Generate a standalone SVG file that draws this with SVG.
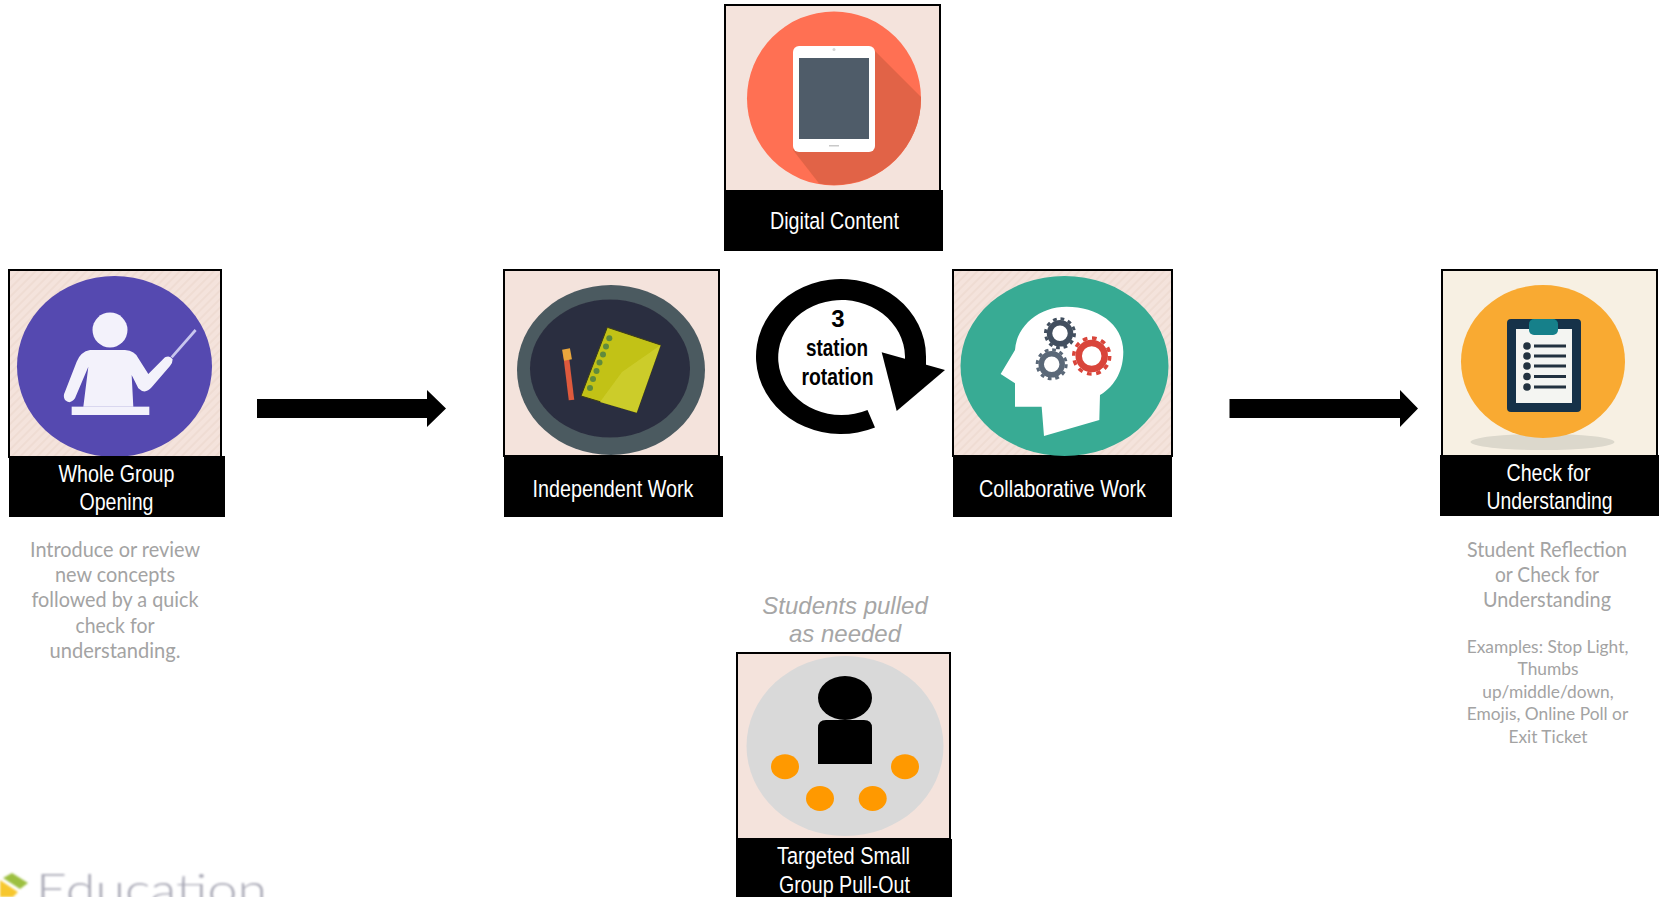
<svg xmlns="http://www.w3.org/2000/svg" width="1659" height="897" viewBox="0 0 1659 897">
<style>
.frame{fill:#f4e3dc;stroke:#000;stroke-width:2}
.bar{fill:#000}
.lab{font-family:"Liberation Sans",Arial,sans-serif;font-size:24.5px;fill:#fff;text-anchor:middle}
.rot{font-family:"Liberation Sans",Arial,sans-serif;font-size:24px;font-weight:bold;fill:#000;text-anchor:middle}
.big{font-family:Lato,"Open Sans",sans-serif;font-size:21px;fill:#a3a3a3;text-anchor:middle}
.small{font-family:Lato,"Open Sans",sans-serif;font-size:17.33px;fill:#a3a3a3;text-anchor:middle}
.ital{font-family:"Liberation Sans",Arial,sans-serif;font-size:24px;font-style:italic;fill:#a6a6a6;text-anchor:middle}
.soft{filter:url(#blur)}
</style>
<defs>
<filter id="blur" x="-5%" y="-5%" width="110%" height="110%"><feGaussianBlur stdDeviation="0.7"/></filter>
<filter id="blur2" x="-5%" y="-20%" width="110%" height="140%"><feGaussianBlur stdDeviation="1.1"/></filter>
<pattern id="stripes" width="6" height="6" patternUnits="userSpaceOnUse" patternTransform="rotate(-45)">
<rect width="6" height="6" fill="#f4e3dc"/><rect width="6" height="2" fill="#efdcd3"/>
</pattern>
<clipPath id="dc"><ellipse cx="834" cy="98.5" rx="87" ry="86.5"/></clipPath>
</defs>
<rect width="1659" height="897" fill="#fff"/>

<g id="node-whole-group">
<rect x="9" y="270" width="212" height="187" fill="url(#stripes)" stroke="#000" stroke-width="2"/>
<g class="soft">
<ellipse cx="114.5" cy="366.5" rx="97.5" ry="90.5" fill="#5548b0"/>
<circle cx="110" cy="330" r="17.5" fill="#f3f2fb"/>
<g transform="translate(50,300) scale(.3333)" fill="#f3f2fb">
<path d="M120 150H225Q255 152 265 175L295 222L345 172Q360 165 368 178Q368 190 360 198L305 262Q285 285 265 265L245 225L250 320H100L115 200L75 295Q60 315 45 300Q38 288 45 275L80 185Q92 155 120 150Z"/>
<rect x="65" y="320" width="233" height="25"/>
<path d="M365 172L437 90" stroke="#c8c6ee" stroke-width="8" fill="none"/>
</g>
</g>
<rect class="bar" x="9" y="456" width="216" height="61"/>
<text class="lab" x="116.5" y="481.5" textLength="116" lengthAdjust="spacingAndGlyphs">Whole Group</text>
<text class="lab" x="116.5" y="510" textLength="74" lengthAdjust="spacingAndGlyphs">Opening</text>
<text class="big" x="115" y="556.5" textLength="170" lengthAdjust="spacingAndGlyphs">Introduce or review</text>
<text class="big" x="115" y="582" textLength="120" lengthAdjust="spacingAndGlyphs">new concepts</text>
<text class="big" x="115" y="607" textLength="167" lengthAdjust="spacingAndGlyphs">followed by a quick</text>
<text class="big" x="115" y="632.5" textLength="79" lengthAdjust="spacingAndGlyphs">check for</text>
<text class="big" x="115" y="658" textLength="131" lengthAdjust="spacingAndGlyphs">understanding.</text>
</g>

<g id="node-independent">
<rect class="frame" x="504" y="270" width="215" height="186"/>
<g class="soft">
<ellipse cx="611" cy="370" rx="94" ry="85" fill="#4c5a60"/>
<ellipse cx="610" cy="368.5" rx="80" ry="69" fill="#2c2f40"/>
<polygon points="607.3,327.3 660.7,345 636.7,412.7 581,396" fill="#c2c215" stroke="#3a3a18" stroke-width="1"/>
<polygon points="660.7,345 636.7,412.7 600,402 622,372" fill="#cccc2c"/>
<g fill="#5f8a3c">
<circle cx="609.3" cy="338.3" r="3"/><circle cx="606" cy="346.5" r="3"/><circle cx="603" cy="354.5" r="3"/><circle cx="599.5" cy="362.5" r="3"/><circle cx="596.5" cy="371" r="3"/><circle cx="593" cy="379" r="3"/><circle cx="590" cy="388" r="3"/>
</g>
<path d="M566 355L571.5 400" stroke="#df5a3c" stroke-width="5.5" fill="none"/>
<path d="M566 349L568 360" stroke="#e9a63c" stroke-width="8" fill="none"/>
</g>
<rect class="bar" x="504" y="456" width="219" height="61"/>
<text class="lab" x="613" y="496.5" textLength="161" lengthAdjust="spacingAndGlyphs">Independent Work</text>
</g>

<g id="node-digital">
<rect class="frame" x="725" y="5" width="215" height="186"/>
<g class="soft">
<circle cx="834" cy="98.5" r="87" fill="#ff6f52"/>
<path d="M872 48L935 111V200H832L793 150Z" fill="#e16446" clip-path="url(#dc)"/>
<rect x="793" y="46" width="82" height="106" rx="6" fill="#fff"/>
<rect x="799" y="58" width="70" height="81" fill="#505c69"/>
<rect x="829" y="145" width="10" height="1.5" fill="#c9c9c9"/>
<circle cx="834" cy="49.5" r="1.5" fill="#d5d5d5"/>
</g>
<rect class="bar" x="724" y="190" width="219" height="61"/>
<text class="lab" x="834.5" y="229" textLength="129" lengthAdjust="spacingAndGlyphs">Digital Content</text>
</g>

<g id="node-rotation">
<g class="soft" fill="#000">
<path d="M875 427.5A85 77.5 0 1 1 926 356.5V366H905V356.5A63.4 57.5 0 1 0 867.5 410Z"/>
<path d="M881.7 352.3L945 370L896.7 411Z"/>
</g>
<text class="rot" x="838" y="327">3</text>
<text class="rot" x="837" y="355.5" textLength="62" lengthAdjust="spacingAndGlyphs">station</text>
<text class="rot" x="837.5" y="385" textLength="72" lengthAdjust="spacingAndGlyphs">rotation</text>
</g>

<g id="node-collaborative">
<rect x="953" y="270" width="219" height="186" fill="url(#stripes)" stroke="#000" stroke-width="2"/>
<g class="soft">
<ellipse cx="1064.5" cy="366" rx="104" ry="90" fill="#38ab94"/>
<path transform="translate(960,280) scale(.3333)" d="M320 80C410 80 490 130 490 215C490 265 470 315 420 345L418 420L252 468L245 380H165V310L122 282L165 210C170 135 240 80 320 80Z" fill="#fff"/>
<g fill="none" stroke="#43505f">
<circle cx="1060" cy="333.3" r="10.5" stroke-width="5.5"/>
<circle cx="1060" cy="333.3" r="14.5" stroke-width="3" stroke-dasharray="3.8 3.8"/>
</g>
<g fill="none" stroke="#5a6878">
<circle cx="1051.7" cy="364.3" r="10.5" stroke-width="5.5"/>
<circle cx="1051.7" cy="364.3" r="14.5" stroke-width="3" stroke-dasharray="3.8 3.8"/>
</g>
<g fill="none" stroke="#d9453a">
<circle cx="1091.7" cy="356" r="13" stroke-width="6.5"/>
<circle cx="1091.7" cy="356" r="18" stroke-width="3.5" stroke-dasharray="4.7 4.7"/>
</g>
</g>
<rect class="bar" x="953" y="456" width="219" height="61"/>
<text class="lab" x="1062.5" y="496.5" textLength="167" lengthAdjust="spacingAndGlyphs">Collaborative Work</text>
</g>

<g id="node-check">
<rect x="1442" y="270" width="215" height="186" fill="#f7f0e3" stroke="#000" stroke-width="2"/>
<g class="soft">
<ellipse cx="1542.5" cy="442" rx="72" ry="8" fill="#dcd8cc"/>
<ellipse cx="1543" cy="361.5" rx="82" ry="76.5" fill="#f9aa33"/>
<rect x="1507" y="319" width="74" height="93" rx="4" fill="#12334a"/>
<rect x="1516" y="329" width="56" height="74" fill="#f4f5f2"/>
<rect x="1529" y="319" width="29" height="16" rx="5" fill="#12808a"/>
<g fill="#22333f">
<circle cx="1527" cy="346" r="3.8"/><rect x="1534" y="344.5" width="32" height="3"/>
<circle cx="1527" cy="356" r="3.8"/><rect x="1534" y="354.5" width="32" height="3"/>
<circle cx="1527" cy="366" r="3.8"/><rect x="1534" y="364.5" width="32" height="3"/>
<circle cx="1527" cy="376.5" r="3.8"/><rect x="1534" y="375" width="32" height="3"/>
<circle cx="1527" cy="387" r="3.8"/><rect x="1534" y="385.5" width="32" height="3"/>
</g>
</g>
<rect class="bar" x="1440" y="455" width="219" height="61"/>
<text class="lab" x="1548.5" y="480.5" textLength="84" lengthAdjust="spacingAndGlyphs">Check for</text>
<text class="lab" x="1549.5" y="509" textLength="126" lengthAdjust="spacingAndGlyphs">Understanding</text>
<text class="big" x="1547" y="556.5" textLength="160" lengthAdjust="spacingAndGlyphs">Student Reflection</text>
<text class="big" x="1547" y="582" textLength="104" lengthAdjust="spacingAndGlyphs">or Check for</text>
<text class="big" x="1547" y="607" textLength="128" lengthAdjust="spacingAndGlyphs">Understanding</text>
<text class="small" x="1547.5" y="653">Examples: Stop Light,</text>
<text class="small" x="1548" y="675">Thumbs</text>
<text class="small" x="1548" y="698">up/middle/down,</text>
<text class="small" x="1547.5" y="720">Emojis, Online Poll or</text>
<text class="small" x="1548" y="743">Exit Ticket</text>
</g>

<g id="node-targeted">
<text class="ital" x="845" y="614">Students pulled</text>
<text class="ital" x="845" y="642">as needed</text>
<rect class="frame" x="737" y="653" width="213" height="186"/>
<ellipse cx="845" cy="746" rx="98.5" ry="90" fill="#d9d9d9"/>
<ellipse cx="845" cy="698" rx="27" ry="22" fill="#000"/>
<path d="M826 720H864Q872 720 872 728V764H818V728Q818 720 826 720Z" fill="#000"/>
<g fill="#ff9900">
<ellipse cx="785" cy="766.7" rx="14" ry="12.5"/>
<ellipse cx="905" cy="766.7" rx="14" ry="12.5"/>
<ellipse cx="820" cy="798.5" rx="14" ry="12.5"/>
<ellipse cx="872.7" cy="798.5" rx="14" ry="12.5"/>
</g>
<rect class="bar" x="736" y="839" width="216" height="58"/>
<text class="lab" x="843.5" y="864" textLength="133" lengthAdjust="spacingAndGlyphs">Targeted Small</text>
<text class="lab" x="844.5" y="893" textLength="131" lengthAdjust="spacingAndGlyphs">Group Pull-Out</text>
</g>

<g id="connectors" fill="#000">
<polygon points="257,399 427,399 427,390 446,408.5 427,427 427,418 257,418"/>
<polygon points="1229.5,399 1400,399 1400,390 1418,408.5 1400,427 1400,418 1229.5,418"/>
</g>

<g id="logo">
<g style="filter:url(#blur2)">
<polygon points="3,878 12,873 28,883 20,889" fill="#9cbf3f"/>
<polygon points="0,880 18,892 13,897 0,897" fill="#f7c72e"/>
<text x="36" y="905" font-family="Lato,'Open Sans',sans-serif" font-weight="300" font-size="44" fill="#a9a9b6" textLength="231" lengthAdjust="spacingAndGlyphs">Education</text>
</g>
</g>
</svg>
